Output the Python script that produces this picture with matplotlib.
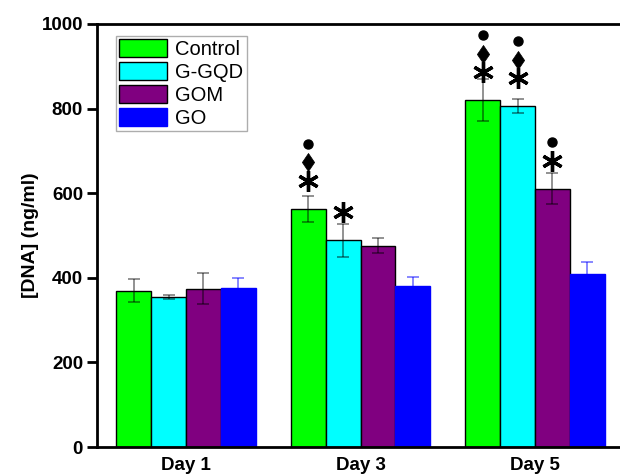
import matplotlib
matplotlib.use("Agg")
import matplotlib.pyplot as plt
import numpy as np

plt.rcParams['font.family'] = ['Liberation Sans', 'DejaVu Sans']

days = ["Day 1", "Day 3", "Day 5"]
series = ["Control", "G-GQD", "GOM", "GO"]
control = [369, 563, 820]
ggqd = [355, 489, 806]
gom = [374, 476, 611]
go = [376, 381, 409]
control_err = [27, 31, 50]
ggqd_err = [5, 39, 16]
gom_err = [37, 18, 37]
go_err = [24, 21, 28]
colors = ["#00ff00", "#00ffff", "#800080", "#0000ff"]

# significance markers: (series index, day index)
sig_star = [(0, 1), (1, 1), (0, 2), (1, 2), (2, 2)]
sig_diamond = [(0, 1), (0, 2), (1, 2)]
sig_dot = [(0, 1), (0, 2), (1, 2), (2, 2)]

values = [control, ggqd, gom, go]
errs = [control_err, ggqd_err, gom_err, go_err]

fig = plt.figure(figsize=(6.2, 4.75), dpi=100)
ax = fig.add_axes([97/620, 1-447/475, 523/620, (447-24)/475])

x = np.arange(len(days))
w = 0.2
offs = [-1.5, -0.5, 0.5, 1.5]
for i in range(4):
    ec = 'blue' if i == 3 else 'black'
    ax.bar(x + offs[i]*w, values[i], width=w, color=colors[i], edgecolor=ec,
           linewidth=1, label=series[i], zorder=2)
    ecol = (0, 0, 1, 0.55) if i == 3 else (0, 0, 0, 0.5)
    ax.errorbar(x + offs[i]*w, values[i], yerr=errs[i], fmt='none', ecolor=ecol,
                elinewidth=1.2, capsize=4, capthick=1.2, zorder=3)

diamond = [(0, -1), (0.68, 0), (0, 1), (-0.68, 0), (0, -1)]
star_off = 66
step = 44
for (s, d) in sig_star:
    ax.plot(x[d] + offs[s]*w, values[s][d] + star_off, marker=(6, 2, 0),
            ms=15, mew=2.4, color='black', zorder=4, clip_on=False)
for (s, d) in sig_diamond:
    ax.plot(x[d] + offs[s]*w, values[s][d] + star_off + step, marker=diamond,
            ms=13, mew=0.5, color='black', zorder=4, clip_on=False)
for (s, d) in sig_dot:
    n = 2 if (s, d) in sig_diamond else 1
    ax.plot(x[d] + offs[s]*w, values[s][d] + star_off + n*step, marker='o',
            ms=6.5, color='black', zorder=4, clip_on=False)

ax.set_xlim(-0.51, 2.487)
ax.set_ylim(0, 1000)
ax.set_yticks([0, 200, 400, 600, 800, 1000])
ax.set_xticks(x)
ax.set_xticklabels(days, fontsize=13.5, fontweight='bold')
ax.tick_params(axis='x', length=0, pad=7)
ax.tick_params(axis='y', direction='out', length=7, width=2, labelsize=13.5, pad=3)
for lab in ax.get_yticklabels():
    lab.set_fontweight('bold')
for sp in ['left', 'bottom', 'top']:
    ax.spines[sp].set_linewidth(2)
ax.spines['right'].set_visible(False)
ax.set_ylabel("[DNA] (ng/ml)", fontsize=14, fontweight='bold', labelpad=2)

leg = ax.legend(loc='upper left', bbox_to_anchor=(116/620, 1-36/475),
                bbox_transform=fig.transFigure, fontsize=14.5, frameon=True,
                fancybox=False, edgecolor='#999999', handlelength=2.4,
                handleheight=1.0, labelspacing=0.15, handletextpad=0.4,
                borderpad=0.15, borderaxespad=0)
leg.get_frame().set_linewidth(1)

fig.savefig("out.png", dpi=100)
